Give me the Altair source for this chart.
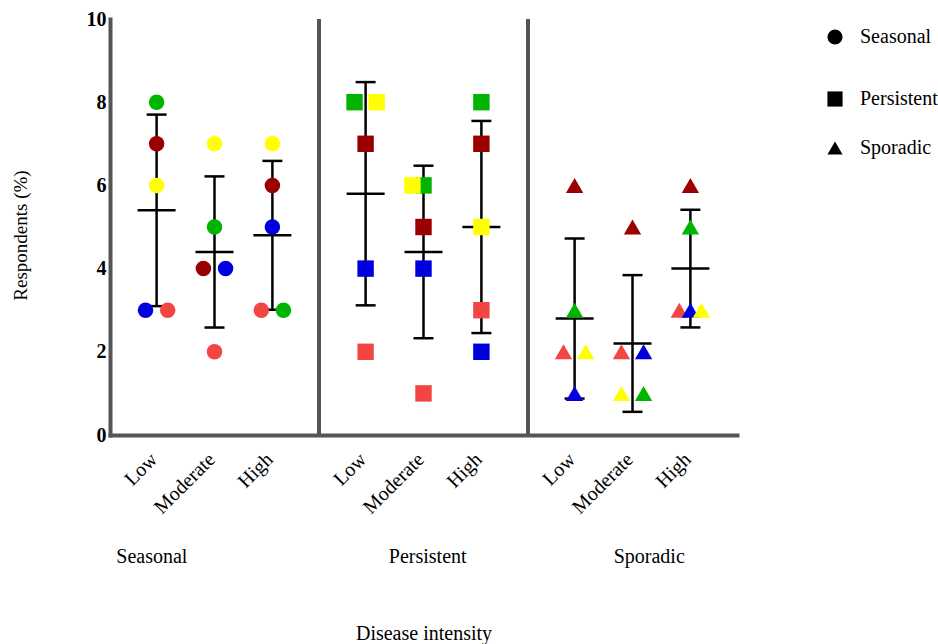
import altair as alt
import pandas as pd

# ---------------- data ----------------
groups = ["Seasonal", "Persistent", "Sporadic"]
group_shapes = ["circle", "square", "triangle-up"]
levels = ["Low", "Moderate", "High"]
respondents = ["Green", "Dark red", "Red", "Blue", "Yellow"]
respondent_colors = ["#00b400", "#9a0000", "#f44545", "#0000dd", "#ffff00"]

# values per level (Low, Moderate, High), in respondent order
seasonal_values = [[8, 7, 3, 3, 6], [5, 4, 2, 4, 7], [3, 6, 3, 5, 7]]
persistent_values = [[8, 7, 2, 4, 8], [6, 5, 1, 4, 6], [8, 7, 3, 2, 5]]
sporadic_values = [[3, 6, 2, 1, 2], [1, 5, 2, 2, 1], [5, 6, 3, 3, 3]]

# side-by-side dodge of tied points (-1 left, 0 centre, 1 right)
seasonal_dodge = [[0, 0, 1, -1, 0], [0, -1, 0, 1, 0], [1, 0, -1, 0, 0]]
persistent_dodge = [[-1, 0, 0, 0, 1], [0, 0, 0, 0, -1], [0, 0, 0, 0, 0]]
sporadic_dodge = [[0, 0, -1, 0, 1], [1, 0, -1, 1, -1], [0, 0, -1, 0, 1]]

group_values = [seasonal_values, persistent_values, sporadic_values]
group_dodge = [seasonal_dodge, persistent_dodge, sporadic_dodge]
boundaries = [1, 2]

SPREAD = 0.277   # spacing of levels within a group (x units)
DODGE = 0.053    # spacing of tied points
FONT = "Liberation Serif"

rows = []
for gi, g in enumerate(groups):
    for li, lv in enumerate(levels):
        for ri, r in enumerate(respondents):
            rows.append(dict(group=g, gsize=g, gi=gi, level=lv, li=li, respondent=r,
                             order=ri, value=group_values[gi][li][ri],
                             dodge=group_dodge[gi][li][ri]))
df = pd.DataFrame(rows)

xcalc = f"datum.gi + 0.5 + (datum.li - 1) * {SPREAD}"
tick_values = [gi + 0.5 + (li - 1) * SPREAD for gi in range(3) for li in range(3)]
label_expr = (f"['Low','Moderate','High'][round((datum.value - floor(datum.value) - {0.5 - SPREAD}) / {SPREAD})]")

xscale = alt.Scale(domain=[0, 3], nice=False, zero=False)
yscale = alt.Scale(domain=[0, 10], nice=False, zero=False)

x_axis = alt.Axis(values=tick_values, labelExpr=label_expr, labelAngle=315,
                  labelAlign="right", labelBaseline="middle", labelFont=FONT,
                  labelFontSize=20, labelColor="black", labelPadding=21,
                  labelOffset=-3, labelFlush=False, labelOverlap=False,
                  ticks=False, tickSize=0, grid=False, domainColor="#555555",
                  domainWidth=4, domainCap="square",
                  title="Disease intensity", titleFont=FONT, titleFontSize=20,
                  titleFontWeight="normal", titleColor="black",
                  titleBaseline="middle", titleY=198)
y_axis = alt.Axis(values=[0, 2, 4, 6, 8, 10], labelFont=FONT, labelFontSize=20,
                  labelFontWeight="bold", labelColor="black", labelPadding=4,
                  ticks=False, tickSize=0, grid=False, domainColor="#555555",
                  domainWidth=4, domainCap="square",
                  title="Respondents (%)", titleFont=FONT, titleFontSize=19,
                  titleFontWeight="normal", titleColor="black",
                  titleBaseline="middle", titleX=-90, titleY=216)

base = alt.Chart(df)

# points
points = base.transform_calculate(
    px=f"{xcalc} + datum.dodge * {DODGE}"
).mark_point(filled=True, opacity=1, strokeWidth=0).encode(
    x=alt.X("px:Q", scale=xscale, axis=x_axis),
    y=alt.Y("value:Q", scale=yscale, axis=y_axis),
    color=alt.Color("respondent:N", scale=alt.Scale(domain=respondents, range=respondent_colors), legend=None),
    shape=alt.Shape("group:N", scale=alt.Scale(domain=groups, range=group_shapes), legend=None),
    size=alt.Size("gsize:N", scale=alt.Scale(domain=groups, range=[240, 300, 280]), legend=None),
    order=alt.Order("order:Q"),
)

# error bars (mean ± SD)
stats = base.transform_aggregate(
    mean="mean(value)", sd="stdev(value)", groupby=["gi", "li"]
).transform_calculate(
    xpos=xcalc, lo="datum.mean - datum.sd", hi="datum.mean + datum.sd"
)
bar_rule = stats.mark_rule(color="black", strokeWidth=2.5).encode(
    x=alt.X("xpos:Q", scale=xscale), y=alt.Y("lo:Q", scale=yscale), y2="hi:Q")
cap_lo = stats.mark_tick(color="black", thickness=2.5, size=20, orient="horizontal", opacity=1).encode(
    x=alt.X("xpos:Q", scale=xscale), y=alt.Y("lo:Q", scale=yscale))
cap_hi = stats.mark_tick(color="black", thickness=2.5, size=20, orient="horizontal", opacity=1).encode(
    x=alt.X("xpos:Q", scale=xscale), y=alt.Y("hi:Q", scale=yscale))
mean_tick = stats.mark_tick(color="black", thickness=2.5, size=38, orient="horizontal", opacity=1).encode(
    x=alt.X("xpos:Q", scale=xscale), y=alt.Y("mean:Q", scale=yscale))

# group dividers
dividers = alt.Chart(pd.DataFrame({"b": boundaries})).mark_rule(
    color="#555555", strokeWidth=4).encode(x=alt.X("b:Q", scale=xscale))

# group labels under the axis
group_label_x = [0.2, 1.52, 2.58]
glabels = alt.Chart(pd.DataFrame({"group": groups, "gx": group_label_x})).mark_text(
    font=FONT, fontSize=20, color="black", baseline="middle", align="center"
).encode(x=alt.X("gx:Q", scale=xscale), y=alt.value(538), text="group:N")

# legend (top right), one entry per group
legend_rows = [18, 80, 129]
legend_layers = []
for name, shp, ly in zip(groups, group_shapes, legend_rows):
    ldf = pd.DataFrame({"group": [name]})
    legend_layers.append(alt.Chart(ldf).mark_point(filled=True, opacity=1, color="black", strokeWidth=0).encode(
        x=alt.value(725), y=alt.value(ly), shape=alt.value(shp), size=alt.value(230)))
    legend_layers.append(alt.Chart(ldf).mark_text(
        font=FONT, fontSize=20, color="black", align="left", baseline="middle").encode(
        x=alt.value(750), y=alt.value(ly), text="group:N"))

chart = alt.layer(dividers, bar_rule, cap_lo, cap_hi, mean_tick, points, glabels, *legend_layers).properties(
    width=627, height=416,
    padding={"left": 110, "top": 19, "right": 201, "bottom": 209},
    autosize=alt.AutoSizeParams(type="none"),
).configure_view(stroke=None)

chart.save("out.html", embed_options={"renderer": "svg", "actions": False})
